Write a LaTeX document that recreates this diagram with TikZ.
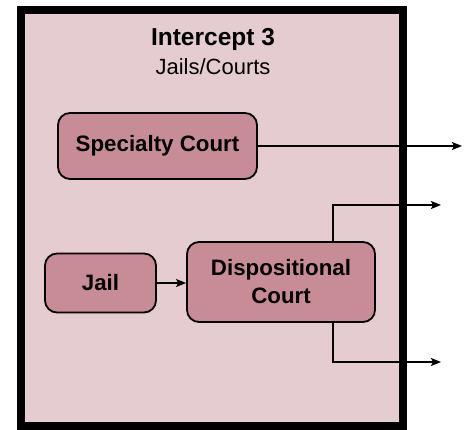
\documentclass[tikz,border=0pt]{standalone}
\usepackage{fontspec}
\setmainfont{Liberation Sans}
\usetikzlibrary{arrows.meta}
\definecolor{panelfill}{RGB}{229,204,209}
\definecolor{boxfill}{RGB}{200,140,151}
\begin{document}
\begin{tikzpicture}[x=1pt,y=-1pt,
  stage/.style={draw=black,line width=1.8pt,rounded corners=12pt,fill=boxfill,
    font=\bfseries\fontsize{22.3}{28}\selectfont,align=center,inner sep=0pt},
  flow/.style={line width=1.4pt,-{Stealth[length=10pt,width=8pt,inset=2pt]}}]
\useasboundingbox (0,0) rectangle (471,430);
% framed panel
\node[draw=black,line width=8pt,fill=panelfill,minimum width=382pt,minimum height=416pt,
  inner sep=0pt] (panel) at (212,218) {};
\node[anchor=base,font=\bfseries\fontsize{24.5}{28}\selectfont] (title) at (213,46) {Intercept 3};
\node[anchor=base,font=\fontsize{22}{26}\selectfont] (subtitle) at (213,75) {Jails/Courts};
% stages
\node[stage,minimum width=199pt,minimum height=66pt] (spec) at (157.5,146) {Specialty Court};
\node[stage,minimum width=111pt,minimum height=59pt] (jail) at (100.5,283) {Jail};
\node[stage,minimum width=188pt,minimum height=80pt] (disp) at (281,282) {Dispositional\\Court};
% exits
\coordinate (tap) at (333,0);
\coordinate (outA) at (462,146);
\coordinate (outB) at (441,205);
\coordinate (outC) at (441,362);
\draw[flow] (spec.east) -- (outA);
\draw[flow] (jail) -- (jail -| disp.west);
\draw[flow] (disp.north -| tap) |- (outB);
\draw[flow] (disp.south -| tap) |- (outC);
\end{tikzpicture}
\end{document}
